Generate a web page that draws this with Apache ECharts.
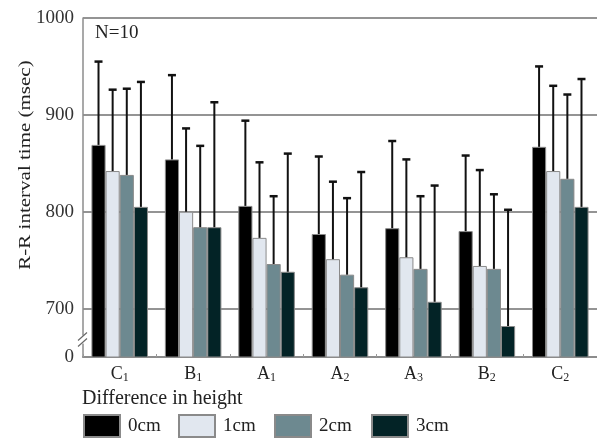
<!DOCTYPE html>
<html>
<head>
<meta charset="utf-8">
<script src="https://cdn.jsdelivr.net/npm/echarts@6/dist/echarts.min.js"></script>
<style>html,body{margin:0;padding:0;background:#fff}#c{width:597px;height:439px}</style>
</head>
<body>
<div id="c"></div>
<script>
const categories = ['C1', 'B1', 'A1', 'A2', 'A3', 'B2', 'C2'];
const seriesNames = ['0cm', '1cm', '2cm', '3cm'];
const mean0 = [869, 854, 806, 777, 783, 780, 867];
const mean1 = [842, 800, 773, 751, 753, 744, 842];
const mean2 = [838, 784, 746, 735, 741, 741, 834];
const mean3 = [805, 784, 738, 722, 707, 682, 805];
const upper0 = [955, 941, 894, 857, 873, 858, 950];
const upper1 = [926, 886, 851, 831, 854, 843, 930];
const upper2 = [927, 868, 816, 814, 816, 818, 921];
const upper3 = [934, 913, 860, 841, 827, 802, 937];
const yTickValues = [650, 700, 800, 900, 1000];
const yTickLabels = ['0', '700', '800', '900', '1000'];

const means = [mean0, mean1, mean2, mean3];
const uppers = [upper0, upper1, upper2, upper3];
const colors = ['#000000', '#e1e7ef', '#6d8990', '#032326'];
const FONT = 'Liberation Serif';
const CAT_GAP = 0.23;

const chart = echarts.init(document.getElementById('c'), null, {renderer: 'canvas'});

const errData = [];
for (let s = 0; s < 4; s++) {
  for (let c = 0; c < categories.length; c++) {
    errData.push([c, s, means[s][c], uppers[s][c]]);
  }
}

const series = seriesNames.map((n, i) => ({
  name: n,
  type: 'bar',
  data: means[i],
  barGap: '0%',
  barCategoryGap: (CAT_GAP * 100) + '%',
  itemStyle: {color: colors[i], borderColor: '#8a8a8a', borderWidth: 1},
  emphasis: {disabled: true},
  z: 2
}));

series.push({
  type: 'custom',
  z: 5,
  data: errData,
  encode: {x: 0, y: 3},
  renderItem: function (params, api) {
    const c = api.value(0), s = api.value(1), m = api.value(2), u = api.value(3);
    const band = api.size([1, 0])[0];
    const bw = band * (1 - CAT_GAP) / 4;
    const center = api.coord([c, m]);
    const x = center[0] - 2 * bw + (s + 0.5) * bw;
    const y0 = center[1];
    const y1 = api.coord([c, u])[1];
    return {
      type: 'group',
      children: [
        {type: 'line', shape: {x1: x, y1: y0, x2: x, y2: y1}, style: {stroke: '#111', lineWidth: 2}},
        {type: 'line', shape: {x1: x - 4, y1: y1, x2: x + 4, y2: y1}, style: {stroke: '#111', lineWidth: 2.5}}
      ]
    };
  }
});

const option = {
  animation: false,
  backgroundColor: '#ffffff',
  textStyle: {fontFamily: FONT},
  grid: {left: 83, right: 0, top: 18, bottom: 82, containLabel: false},
  title: [{
    text: 'Difference in height', left: 82, top: 389, padding: 0,
    textStyle: {fontFamily: FONT, fontSize: 20, fontWeight: 'normal', color: '#222'}
  }, {
    text: 'N=10', left: 95, top: 24, padding: 0,
    textStyle: {fontFamily: FONT, fontSize: 19, fontWeight: 'normal', color: '#222'}
  }],
  legend: [
    {data: ['0cm'], left: 83},
    {data: ['1cm'], left: 178},
    {data: ['2cm'], left: 274},
    {data: ['3cm'], left: 371}
  ].map(l => Object.assign(l, {
    top: 414, padding: 0, icon: 'rect', itemWidth: 36, itemHeight: 22, itemGap: 0,
    selectedMode: false,
    textStyle: {fontFamily: FONT, fontSize: 19, color: '#222', padding: [0, 0, 0, 3]}
  })),
  xAxis: {
    type: 'category',
    data: categories,
    axisLine: {lineStyle: {color: '#8c8c8c', width: 2}},
    axisTick: {show: true, inside: true, length: 3, lineStyle: {color: '#999'}},
    axisLabel: {
      interval: 0,
      margin: 8,
      formatter: v => '{m|' + v[0] + '}{s|' + v.slice(1) + '}',
      rich: {
        m: {fontFamily: FONT, fontSize: 18, color: '#222'},
        s: {fontFamily: FONT, fontSize: 12, color: '#222', padding: [7, 0, 0, 0]}
      }
    }
  },
  yAxis: {
    type: 'value',
    min: 650, max: 1000, interval: 50,
    axisLine: {show: true, lineStyle: {color: '#8c8c8c', width: 1.5}},
    axisTick: {show: false},
    axisLabel: {
      margin: 9,
      fontFamily: FONT, fontSize: 19, color: '#333',
      customValues: yTickValues,
      formatter: v => {
        const i = yTickValues.indexOf(v);
        return i >= 0 ? yTickLabels[i] : '';
      }
    },
    splitLine: {show: true, showMinLine: false, lineStyle: {color: ['#707070', 'rgba(0,0,0,0)'], width: 1.5}}
  },
  series: series
};
chart.setOption(option);

// y-axis title and axis break mark
const p = chart.convertToPixel({xAxisIndex: 0, yAxisIndex: 0}, [0, 668]);
const ax = 83;
const py = p[1];
chart.setOption({
  graphic: [
    {type: 'text', x: 25, y: 165, rotation: Math.PI / 2, scaleX: 1.2,
     style: {text: 'R-R interval time (msec)', font: '17.5px "Liberation Serif"', fill: '#222', align: 'center', verticalAlign: 'middle'}},
    {type: 'rect', shape: {x: ax - 2, y: py - 4, width: 4, height: 8}, style: {fill: '#fff'}, z: 10},
    {type: 'line', shape: {x1: ax - 5, y1: py + 1, x2: ax + 4, y2: py - 7}, style: {stroke: '#666', lineWidth: 1.2}, z: 11},
    {type: 'line', shape: {x1: ax - 5, y1: py + 7, x2: ax + 4, y2: py - 1}, style: {stroke: '#666', lineWidth: 1.2}, z: 11}
  ]
});
</script>
</body>
</html>
